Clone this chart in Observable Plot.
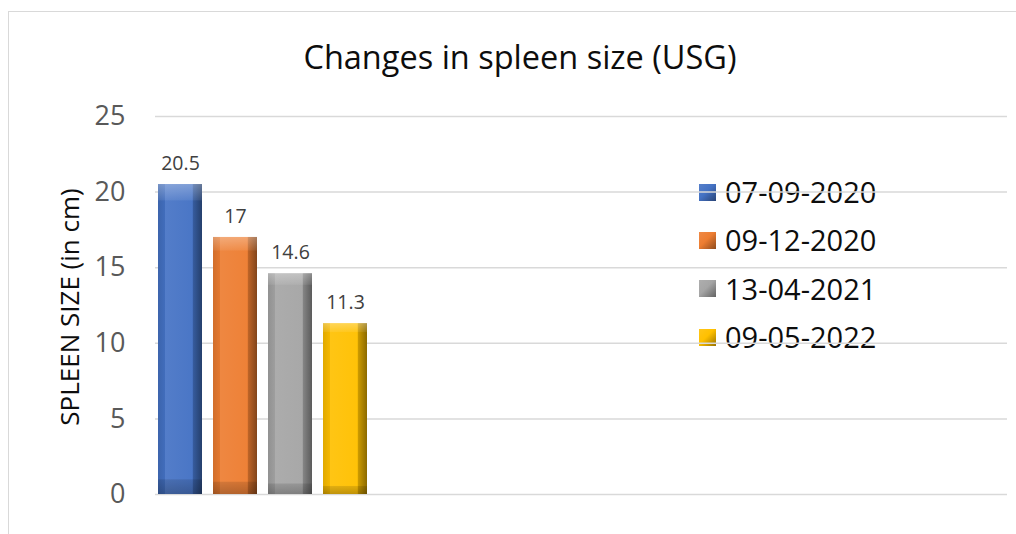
<!DOCTYPE html>
<html>
<head>
<meta charset="utf-8">
<script src="https://cdn.jsdelivr.net/npm/d3@7"></script>
<script src="https://cdn.jsdelivr.net/npm/@observablehq/plot@0.6"></script>
<style>
  html, body { margin: 0; padding: 0; background: #fff; }
  body { width: 1016px; height: 534px; overflow: hidden; font-family: "Open Sans", sans-serif; }
  #wrap { position: relative; width: 1016px; height: 534px; }
  #frame { position: absolute; left: 8px; top: 11px; width: 1100px; height: 600px; border: 1.5px solid #d9d9d9; box-sizing: border-box; }
  #title { position: absolute; left: 0; width: 1040px; top: 35px; text-align: center; font-size: 32.5px; color: #0d0d0d; line-height: 44px; }
  #ylabel { position: absolute; left: 69px; top: 307px; transform: translate(-50%, -50%) rotate(-90deg); white-space: nowrap; font-size: 26px; color: #0d0d0d; }
  #legend { position: absolute; left: 699px; top: 168px; }
  .item { display: flex; align-items: center; height: 48.3px; }
  .sw { width: 17px; height: 17px; margin-right: 9px; box-sizing: border-box; }
  .lt { font-size: 29px; color: #0d0d0d; line-height: 32px; }
  svg { position: absolute; left: 0; top: 0; }
</style>
</head>
<body>
<div id="wrap">
  <div id="frame"></div>
  <div id="title">Changes in spleen size (USG)</div>
  <div id="ylabel">SPLEEN SIZE (in cm)</div>
  <div id="legend"></div>
</div>
<script>
const dates = ["07-09-2020", "09-12-2020", "13-04-2021", "09-05-2022"];
const sizes = [20.5, 17, 14.6, 11.3];
const colors = ["#4472C4", "#ED7D31", "#A5A5A5", "#FFC000"];
const yTicks = [0, 5, 10, 15, 20, 25];

const data = dates.map((d, i) => ({date: d, size: sizes[i], idx: i}));

function shade(c, k) {
  return k > 0 ? d3.interpolateRgb(c, "#fff")(k) + "" : d3.interpolateRgb(c, "#000")(-k) + "";
}

const plot = Plot.plot({
  width: 1016,
  height: 534,
  marginTop: 116,
  marginBottom: 40,
  marginLeft: 155,
  marginRight: 9,
  style: {fontFamily: "'Open Sans', sans-serif", background: "transparent", overflow: "visible"},
  x: {type: "band", domain: dates, range: [152.5, 372.5], paddingInner: 0.2, paddingOuter: 0.1, axis: null},
  y: {domain: [0, 25], ticks: yTicks, label: null},
  color: {type: "identity"},
  marks: [
    Plot.ruleY(yTicks, {stroke: "#d9d9d9", strokeWidth: 1.5}),
    Plot.axisY({ticks: yTicks, tickSize: 0, tickPadding: 30, fontSize: 27, fill: "#595959", label: null}),
    Plot.barY(data, {x: "date", y: "size", fill: d => `url(#hg${d.idx})`}),
    Plot.barY(data, {x: "date", y: "size", fill: "url(#vg)"}),
    Plot.text(data, {x: "date", y: "size", text: d => String(d.size), dy: -21, fontSize: 19.5, fill: "#404040"})
  ]
});

// gradient definitions for the bevelled bars
const ns = "http://www.w3.org/2000/svg";
const defs = document.createElementNS(ns, "defs");
let html = "";
colors.forEach((c, i) => {
  html += `<linearGradient id="hg${i}" x1="0" x2="1" y1="0" y2="0">
    <stop offset="0" stop-color="${shade(c, -0.12)}"/>
    <stop offset="0.16" stop-color="${shade(c, -0.04)}"/>
    <stop offset="0.17" stop-color="${shade(c, 0.08)}"/>
    <stop offset="0.78" stop-color="${shade(c, 0.03)}"/>
    <stop offset="0.8" stop-color="${shade(c, -0.2)}"/>
    <stop offset="1" stop-color="${shade(c, -0.45)}"/>
  </linearGradient>`;
});
html += `<linearGradient id="vg" x1="0" x2="0" y1="0" y2="1">
  <stop offset="0" stop-color="#fff" stop-opacity="0.3"/>
  <stop offset="0.05" stop-color="#fff" stop-opacity="0.08"/>
  <stop offset="0.055" stop-color="#fff" stop-opacity="0"/>
  <stop offset="0.95" stop-color="#000" stop-opacity="0"/>
  <stop offset="0.955" stop-color="#000" stop-opacity="0.12"/>
  <stop offset="1" stop-color="#000" stop-opacity="0.25"/>
</linearGradient>`;
defs.innerHTML = html;
plot.insertBefore(defs, plot.firstChild);

document.getElementById("wrap").appendChild(plot);

const legend = document.getElementById("legend");
dates.forEach((d, i) => {
  const c = colors[i];
  const item = document.createElement("div");
  item.className = "item";
  const sw = document.createElement("div");
  sw.className = "sw";
  sw.style.background = `linear-gradient(135deg, ${shade(c, 0.1)} 0%, ${c} 45%, ${shade(c, -0.4)} 100%)`;
  const t = document.createElement("span");
  t.className = "lt";
  t.textContent = d;
  item.appendChild(sw);
  item.appendChild(t);
  legend.appendChild(item);
});
</script>
</body>
</html>
